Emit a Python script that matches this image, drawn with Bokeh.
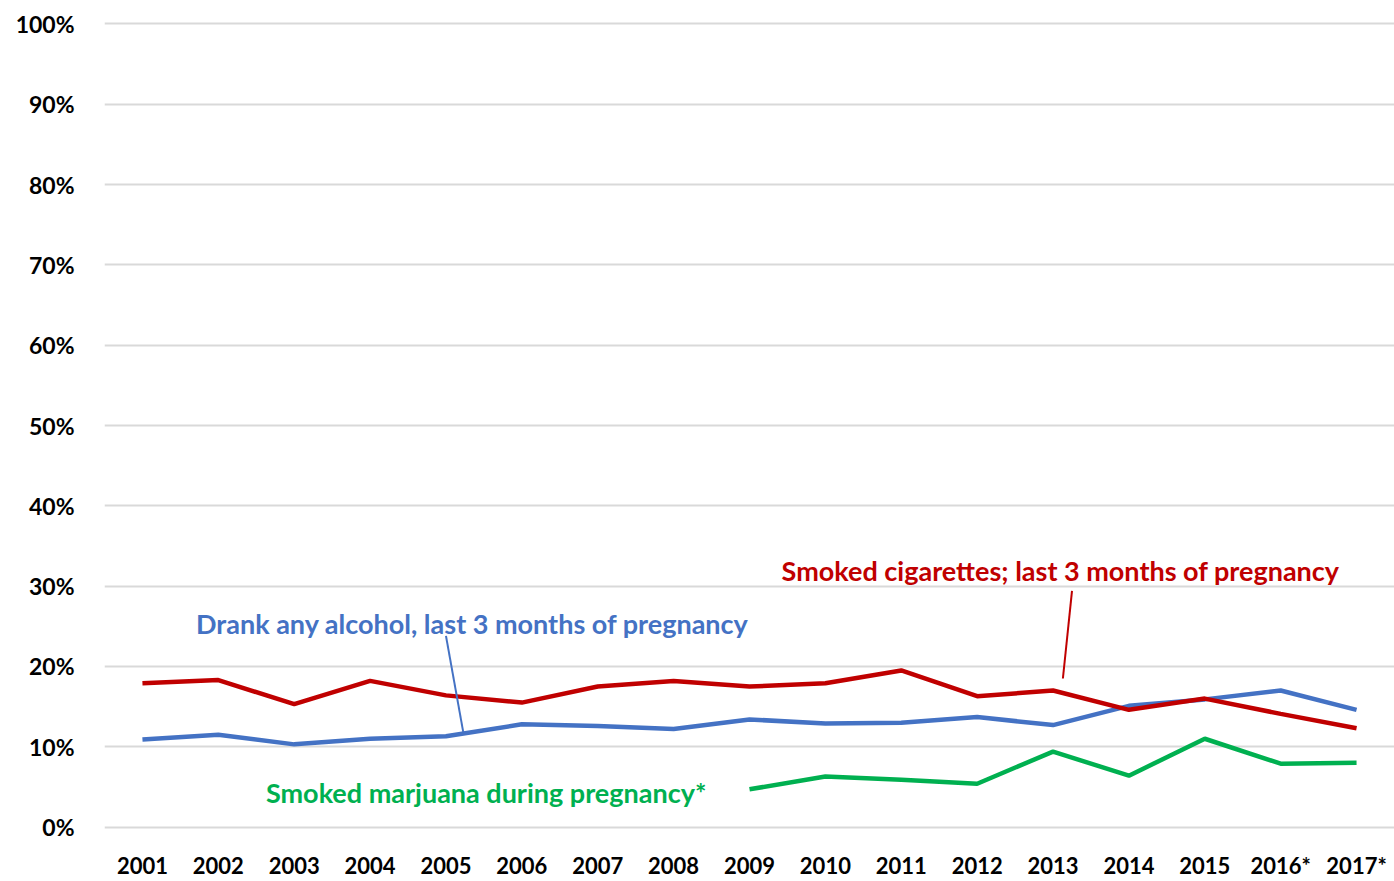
from bokeh.plotting import figure
from bokeh.models import Range1d, FixedTicker, ColumnDataSource
from bokeh.core.properties import value
from bokeh.embed import file_html
from bokeh.resources import INLINE

years = ["2001", "2002", "2003", "2004", "2005", "2006", "2007", "2008", "2009",
         "2010", "2011", "2012", "2013", "2014", "2015", "2016*", "2017*"]
cigarettes = [17.9, 18.3, 15.3, 18.2, 16.4, 15.5, 17.5, 18.2, 17.5,
              17.9, 19.5, 16.3, 17.0, 14.6, 16.0, 14.1, 12.3]
alcohol = [10.9, 11.5, 10.3, 11.0, 11.3, 12.8, 12.6, 12.2, 13.4,
           12.9, 13.0, 13.7, 12.7, 15.1, 15.9, 17.0, 14.6]
marijuana_years = ["2009", "2010", "2011", "2012", "2013", "2014", "2015", "2016*", "2017*"]
marijuana = [4.7, 6.3, 5.9, 5.4, 9.4, 6.4, 11.0, 7.9, 8.0]
y_ticks = [0, 10, 20, 30, 40, 50, 60, 70, 80, 90, 100]
y_labels = ["0%", "10%", "20%", "30%", "40%", "50%", "60%", "70%", "80%", "90%", "100%"]

labels = ["Smoked cigarettes; last 3 months of pregnancy",
          "Drank any alcohol, last 3 months of pregnancy",
          "Smoked marjuana during pregnancy*"]
label_x = [12.1, 4.35, 4.53]
label_y = [32.0, 25.3, 4.3]
leader_x0 = [12.25, 4.0]
leader_y0 = [29.4, 23.8]
leader_x1 = [12.13, 4.23]
leader_y1 = [18.5, 11.7]

RED = "#C00000"
BLUE = "#4472C4"
GREEN = "#00B050"
FONT = "Lato"

xi = list(range(len(years)))
mi = [years.index(y) for y in marijuana_years]

p = figure(width=1394, height=881, output_backend="svg", toolbar_location=None,
           x_range=Range1d(-0.5, len(years) - 0.5), y_range=Range1d(-0.3, 100.3),
           min_border_left=104, min_border_right=0, min_border_top=21, min_border_bottom=50)
p.outline_line_color = None
p.xgrid.grid_line_color = None
p.ygrid.grid_line_color = "#D9D9D9"
p.ygrid.grid_line_width = 2

p.xaxis.ticker = FixedTicker(ticks=xi)
p.xaxis.major_label_overrides = {i: y for i, y in enumerate(years)}
p.yaxis.ticker = FixedTicker(ticks=y_ticks)
p.yaxis.major_label_overrides = {t: l for t, l in zip(y_ticks, y_labels)}
for ax in (p.xaxis, p.yaxis):
    ax.axis_line_color = None
    ax.major_tick_line_color = None
    ax.minor_tick_line_color = None
    ax.major_label_text_font = FONT
    ax.major_label_text_font_style = "bold"
    ax.major_label_text_font_size = "22px"
    ax.major_label_text_color = "black"
p.yaxis.major_label_text_font_size = "23px"
p.xaxis.major_label_standoff = 16
p.yaxis.major_label_standoff = 24

p.line(xi, alcohol, line_color=BLUE, line_width=4.5)
p.line(xi, cigarettes, line_color=RED, line_width=4.5)
p.line(mi, marijuana, line_color=GREEN, line_width=4.5)

leader_colors = [RED, BLUE]
p.segment(x0=leader_x0, y0=leader_y0, x1=leader_x1, y1=leader_y1,
          line_color=leader_colors, line_width=2)

src = ColumnDataSource(dict(x=label_x, y=label_y, t=labels, c=[RED, BLUE, GREEN]))
p.text(x="x", y="y", text="t", text_color="c", source=src,
       text_font=value(FONT), text_font_style="bold", text_font_size="27px",
       text_align="center", text_baseline="middle")

open("out.html", "w").write(file_html(p, INLINE))
